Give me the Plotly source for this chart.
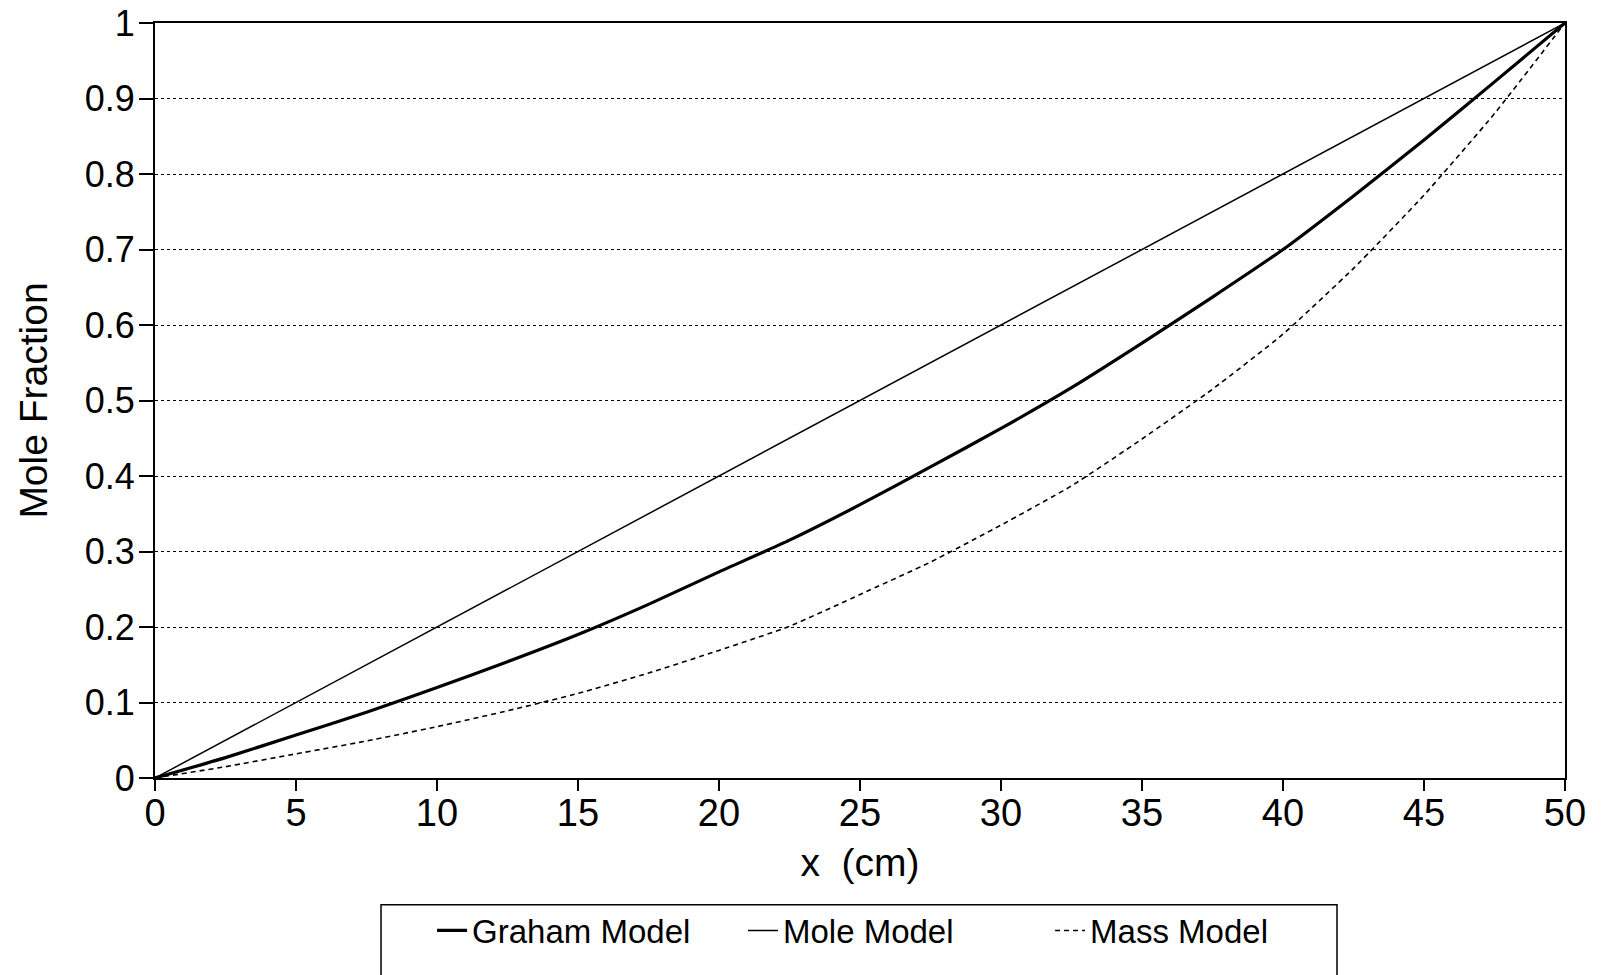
import plotly.graph_objects as go

x_cm = [0, 2.5, 5, 7.5, 10, 12.5, 15, 17.5, 20, 22.5, 25, 27.5, 30, 32.5, 35, 37.5, 40, 42.5, 45, 47.5, 50]
graham = [0, 0.027, 0.057, 0.087, 0.12, 0.154, 0.19, 0.23, 0.273, 0.315, 0.362, 0.412, 0.463, 0.517, 0.576, 0.637, 0.70, 0.771, 0.845, 0.922, 1.0]
mole = [0, 0.05, 0.10, 0.15, 0.20, 0.25, 0.30, 0.35, 0.40, 0.45, 0.50, 0.55, 0.60, 0.65, 0.70, 0.75, 0.80, 0.85, 0.90, 0.95, 1.0]
mass = [0, 0.015, 0.032, 0.049, 0.068, 0.089, 0.112, 0.139, 0.169, 0.201, 0.243, 0.286, 0.335, 0.387, 0.449, 0.515, 0.588, 0.675, 0.772, 0.88, 1.0]

x_ticks = [0, 5, 10, 15, 20, 25, 30, 35, 40, 45, 50]
y_ticks = [0, 0.1, 0.2, 0.3, 0.4, 0.5, 0.6, 0.7, 0.8, 0.9, 1]
y_tick_labels = ["0", "0.1", "0.2", "0.3", "0.4", "0.5", "0.6", "0.7", "0.8", "0.9", "1"]

FONT = "Liberation Sans, Arial, sans-serif"

fig = go.Figure()
fig.add_trace(go.Scatter(x=x_cm, y=graham, mode="lines", name="Graham Model", legend="legend",
                         line=dict(color="black", width=3.2, shape="spline", smoothing=0.6)))
fig.add_trace(go.Scatter(x=x_cm, y=mole, mode="lines", name="Mole Model", legend="legend2",
                         line=dict(color="black", width=1.5)))
fig.add_trace(go.Scatter(x=x_cm, y=mass, mode="lines", name="Mass Model", legend="legend3",
                         line=dict(color="black", width=1.6, dash="5px,4px", shape="spline", smoothing=0.5)))

leg_common = dict(orientation="h", y=-0.202, xanchor="left", yanchor="middle",
                  font=dict(size=33, family=FONT, color="black"), bgcolor="rgba(0,0,0,0)",
                  borderwidth=0)

fig.update_layout(
    width=1602, height=975,
    margin=dict(l=155, r=37, t=23, b=197),
    paper_bgcolor="white", plot_bgcolor="white",
    font=dict(family=FONT, color="black"),
    showlegend=True,
    legend=dict(x=0.1965, **leg_common),
    legend2=dict(x=0.417, **leg_common),
    legend3=dict(x=0.6348, **leg_common),
    shapes=[dict(type="rect", xref="paper", yref="paper", x0=0.1603, x1=0.8383,
                 y0=-0.168, y1=-0.40, line=dict(color="black", width=1.5))],
)

fig.update_xaxes(range=[0, 50], tickvals=x_ticks, ticks="outside", ticklen=11, tickwidth=2,
                 tickcolor="black", showline=True, linecolor="black", linewidth=2, mirror=True,
                 showgrid=False, zeroline=False, automargin=False,
                 tickfont=dict(size=38, family=FONT), ticklabelstandoff=-11,
                 title=dict(text="x  (cm)", font=dict(size=39, family=FONT), standoff=16))
fig.update_yaxes(range=[0, 1], tickvals=y_ticks, ticktext=y_tick_labels, ticks="outside",
                 ticklen=14, tickwidth=2, tickcolor="black", showline=True, linecolor="black",
                 linewidth=2, mirror=True, showgrid=True, gridcolor="black", gridwidth=1,
                 griddash="dot", zeroline=False, automargin=False, ticklabelstandoff=-3,
                 tickfont=dict(size=36, family=FONT),
                 title=dict(text="Mole Fraction", font=dict(size=39, family=FONT), standoff=25))

fig.write_html("out.html")
